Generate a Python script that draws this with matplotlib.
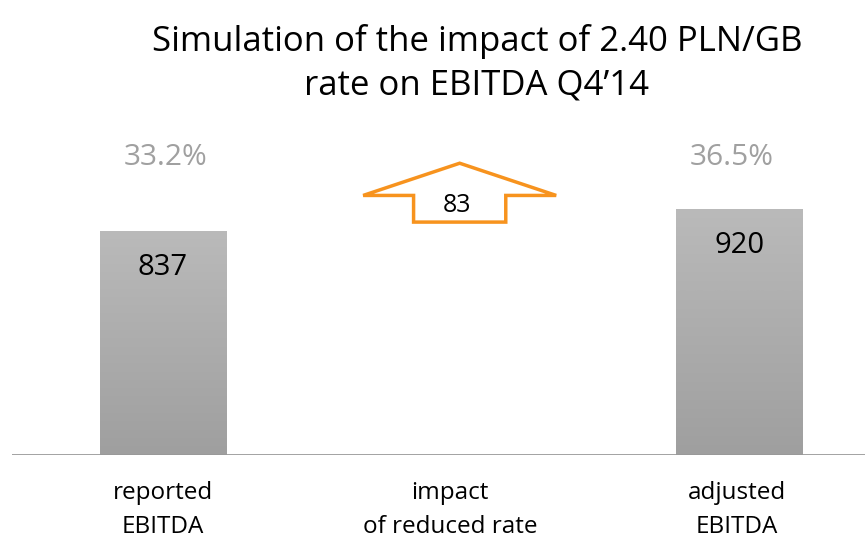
import numpy as np
import matplotlib.pyplot as plt
from matplotlib.patches import Polygon

plt.rcParams['font.family'] = ['Open Sans', 'DejaVu Sans']

## data
categories = ['reported\nEBITDA', 'impact\nof reduced rate', 'adjusted\nEBITDA']
bar_pos = [0, 2]
bar_values = [837, 920]
bar_labels = ['837', '920']
margins = ['33.2%', '36.5%']
impact = 83
title = 'Simulation of the impact of 2.40 PLN/GB\nrate on EBITDA Q4\u201914'

## figure
fig = plt.figure(figsize=(8.65, 5.39), dpi=100)
ax = fig.add_axes([12/865, 84/539, 853/865, 455/539])
ax.set_xlim(-0.524, 2.437)
ax.set_ylim(0, 1700)
ax.axis('off')
ax.axhline(0, color='#999999', lw=2, xmin=0, xmax=1)

# gradient bars
grad = np.linspace(0, 1, 256).reshape(-1, 1)
cmap = plt.cm.colors.LinearSegmentedColormap.from_list('g', ['#9f9f9f', '#bababa'])
bars = ax.bar(bar_pos, bar_values, width=0.44, color='none', edgecolor='none')
for b in bars:
    x0, w, h = b.get_x(), b.get_width(), b.get_height()
    im = ax.imshow(grad, cmap=cmap, extent=[x0, x0 + w, 0, h],
                   origin='lower', aspect='auto', zorder=1)
    im.set_clip_path(b)

for x, v, lab, m in zip(bar_pos, bar_values, bar_labels, margins):
    ax.text(x, v - 137, lab, ha='center', va='center', fontsize=21, color='black')
    ax.text(x + (0.01 if x == 0 else -0.025), 1112, m, ha='center', va='center',
            fontsize=21.5, color='#a0a0a0')

# impact arrow
cx = 1.03
y0 = bar_values[0] + impact * 0.4
y1 = y0 + impact * 1.2
y2 = y1 + impact * 1.45
sw, hw = 0.16, 0.335
arrow = Polygon([[cx - sw, y0], [cx + sw, y0], [cx + sw, y1], [cx + hw, y1],
                 [cx, y2], [cx - hw, y1], [cx - sw, y1]],
                closed=True, facecolor='white', edgecolor='#f7931e', lw=2.5, zorder=3)
ax.add_patch(arrow)
ax.text(cx - 0.01, (y0 + y1) / 2 + 12, str(impact), ha='center', va='center',
        fontsize=18, color='black', zorder=4)

# category labels
for i, c in enumerate(categories):
    fig.text((163 + i * 287) / 865, 1 - 510/539, c, ha='center', va='center',
             fontsize=17.5, color='black', linespacing=1.55)

fig.text(477/865, 1 - 63/539, title, ha='center', va='center', fontsize=25, linespacing=1.35)

fig.savefig('out.png')
